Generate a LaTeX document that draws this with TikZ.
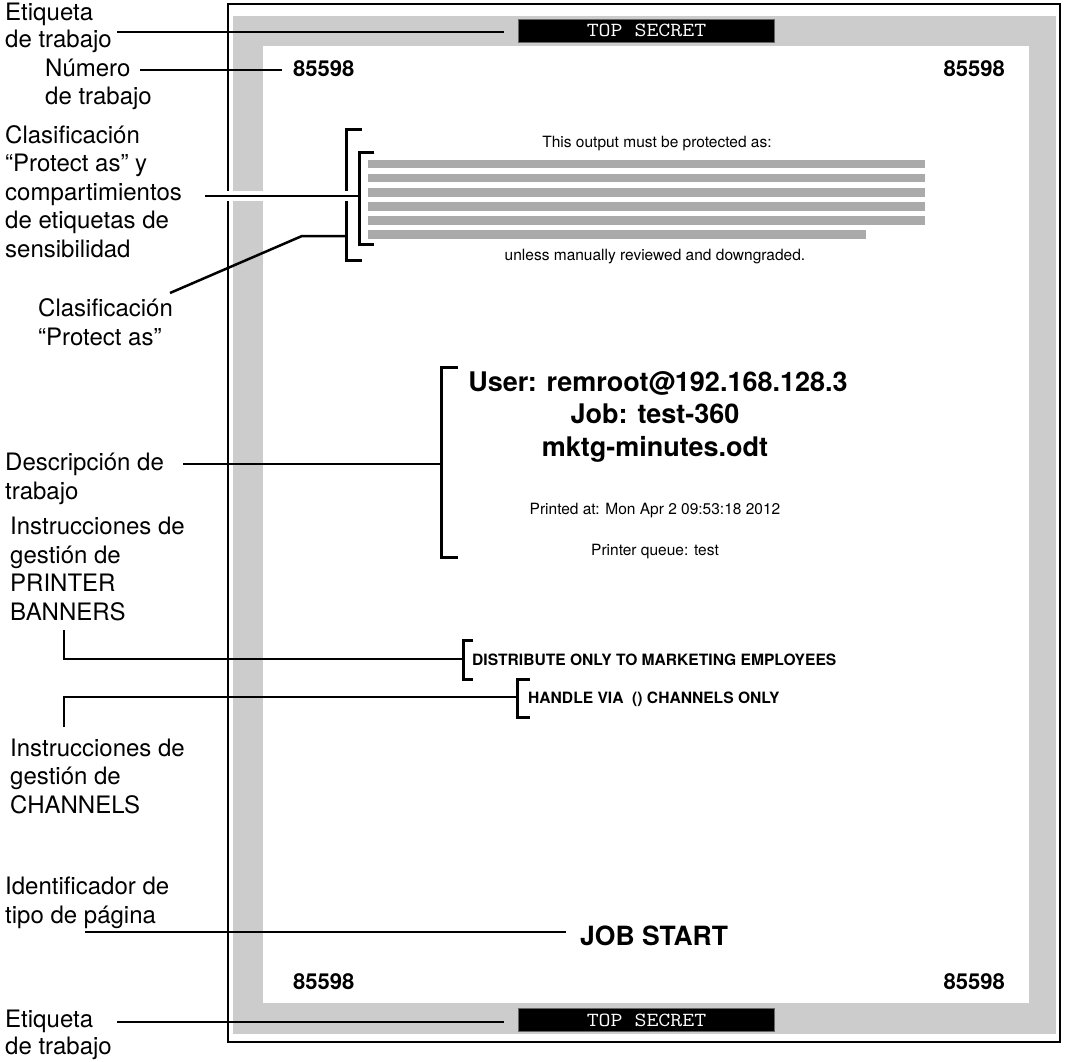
\documentclass[tikz,border=0pt]{standalone}
\usepackage{fontspec}
\setmainfont{TeX Gyre Heros}
\definecolor{band}{HTML}{CCCCCC}
\definecolor{barg}{HTML}{AAAAAA}
\tikzset{
  lbl/.style={anchor=base west, align=left, inner sep=0pt, font=\fontsize{24}{28.5}\selectfont},
  lead/.style={line width=2.5pt},
  brk/.style={line width=3pt},
  secret/.style={fill=black, draw=black!60, line width=0.8pt, minimum width=256pt, minimum height=23pt, inner sep=0pt, text=white, font=\fontsize{20}{20}\ttfamily},
  num/.style={anchor=base, inner sep=0pt, font=\fontsize{22}{22}\selectfont\bfseries},
  big/.style={anchor=base, inner sep=0pt, font=\fontsize{27}{27}\selectfont\bfseries},
  small/.style={anchor=base, inner sep=0pt, font=\fontsize{15.5}{15.5}\selectfont},
  caps/.style={anchor=base west, inner sep=0pt, font=\fontsize{15.6}{15.6}\selectfont\bfseries},
  bar/.style={fill=barg}
}
\begin{document}
\begin{tikzpicture}[x=1pt,y=-1pt]
\useasboundingbox (0,0) rectangle (1066,1062);
% page
\fill[band] (233,16) rectangle (1056,1034);
\fill[white] (263,46) rectangle (1029,1003);
\draw[line width=2.5pt] (228,4) rectangle (1060,1042);
% top secret labels
\node[secret] (ts1) at (646.5,30.5) {\scalebox{1.16}[1]{TOP SECRET}};
\node[secret] (ts2) at (646.5,1020) {\scalebox{1.16}[1]{TOP SECRET}};
% job numbers
\node[num, anchor=base west] (n1) at (293,77) {85598};
\node[num, anchor=base east] (n2) at (1005,77) {85598};
\node[num, anchor=base west] (n3) at (293,989) {85598};
\node[num, anchor=base east] (n4) at (1005,989) {85598};
% protect-as block
\node[small] (prot) at (657,147.5) {This output must be protected as:};
\fill[bar] (368,160) rectangle (925,168.5);
\fill[bar] (368,174) rectangle (925,182.5);
\fill[bar] (368,188) rectangle (925,196.5);
\fill[bar] (368,202) rectangle (925,210.5);
\fill[bar] (368,216) rectangle (925,224.5);
\fill[bar] (368,230) rectangle (866,238.5);
\node[small] (unless) at (655,260.5) {unless manually reviewed and downgraded.};
% job description
\node[big] (user) at (658,391) {User: remroot@192.168.128.3};
\node[big] (job) at (655,423.5) {Job: test-360};
\node[big] (file) at (655,456) {mktg-minutes.odt};
\node[small] (printed) at (655,514.5) {Printed at: Mon Apr 2 09:53:18 2012};
\node[small] (queue) at (655,555.5) {Printer queue: test};
% handling
\node[caps] (dist) at (472,665.5) {DISTRIBUTE ONLY TO MARKETING EMPLOYEES};
\node[caps] (handle) at (528,703) {HANDLE VIA\ \ () CHANNELS ONLY};
\node[anchor=base west, inner sep=0pt, font=\fontsize{26.5}{26.5}\selectfont\bfseries] (js) at (580,945.5) {JOB START};
% left labels (anchor = baseline of last line)
\node[lbl] (L1) at (5,48) {Etiqueta\\[-1.5pt]de trabajo};
\node[lbl] (L2) at (45,105) {Número\\de trabajo};
\node[lbl] (L3) at (5,257) {Clasificación\\“Protect as” y\\compartimientos\\de etiquetas de\\sensibilidad};
\node[lbl] (L4) at (38,345) {Clasificación\\“Protect as”};
\node[lbl] (L5) at (5,499) {Descripción de\\trabajo};
\node[lbl] (L6) at (10,620) {Instrucciones de\\gestión de\\PRINTER\\BANNERS};
\node[lbl] (L7) at (10,813) {Instrucciones de\\gestión de\\CHANNELS};
\node[lbl] (L8) at (5,923) {Identificador de\\tipo de página};
\node[lbl] (L9) at (5,1054) {Etiqueta\\[-1.5pt]de trabajo};
% brackets
\draw[brk] (362,130) -- (346,130) -- (346,260) -- (362,260);
\draw[brk] (374,153) -- (359,153) -- (359,244) -- (374,244);
\draw[brk] (458,367) -- (441,367) -- (441,557) -- (458,557);
\draw[brk] (473,640) -- (463,640) -- (463,679) -- (473,679);
\draw[brk] (530,679) -- (517,679) -- (517,717) -- (530,717);
\coordinate (b3) at (359,196);
\coordinate (b4) at (346,236);
\coordinate (b5) at (441,464);
\coordinate (b6) at (463,659);
\coordinate (b7) at (517,697);
% leader start points
\coordinate (s1) at (117,32);
\coordinate (s2) at (140,70);
\coordinate (s3) at (205,196);
\coordinate (s4) at (170,293);
\coordinate (k4) at (302,236);
\coordinate (s5) at (183,464);
\coordinate (s6) at (64,630);
\coordinate (s7) at (64,727);
\coordinate (s8) at (85,932);
\coordinate (s9) at (117,1022);
% leaders
\draw[lead, shorten >=14pt] (s1) -- (s1 -| ts1.west);
\draw[lead, shorten >=11pt] (s2) -- (s2 -| n1.west);
\draw[white, line width=10pt] (s3) -- ([xshift=-7pt]b3);
\draw[lead] (s3) -- (b3);
\draw[lead] (s4) -- (k4) -- (b4);
\draw[lead] (s5) -- (b5);
\draw[lead] (s6) -- (s6 |- b6) -- (b6);
\draw[lead] (s7) -- (s7 |- b7) -- (b7);
\draw[lead, shorten >=14pt] (s8) -- (s8 -| js.west);
\draw[lead, shorten >=14pt] (s9) -- (s9 -| ts2.west);
\end{tikzpicture}
\end{document}
